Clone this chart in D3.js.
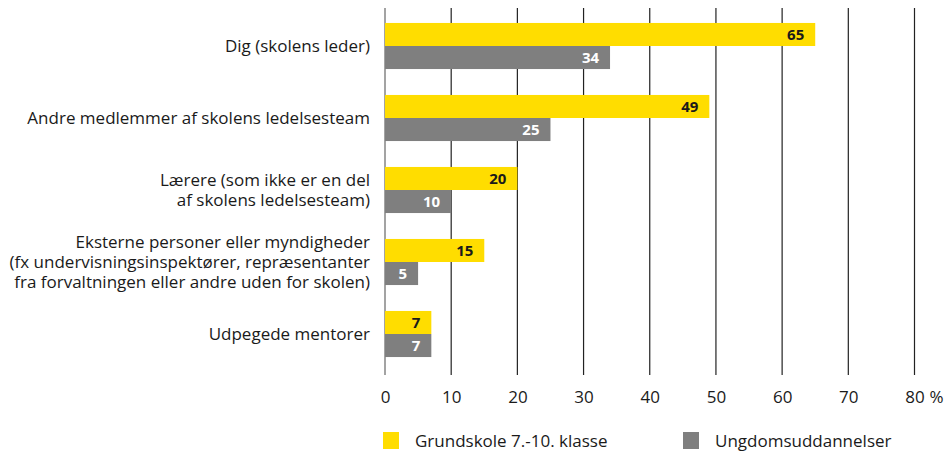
<!DOCTYPE html>
<html>
<head>
<meta charset="utf-8">
<script src="https://cdn.jsdelivr.net/npm/d3@7"></script>
<style>
  body { margin: 0; background: #fff; }
  text { font-family: "Open Sans", "Noto Sans", sans-serif; fill: #1a1a1a; }
</style>
</head>
<body>
<div class="chart"></div>
<script>
// categories, one line per array entry
var categories = [
    ["Dig (skolens leder)"],
    ["Andre medlemmer af skolens ledelsesteam"],
    ["Lærere (som ikke er en del", "af skolens ledelsesteam)"],
    ["Eksterne personer eller myndigheder", "(fx undervisningsinspektører, repræsentanter", "fra forvaltningen eller andre uden for skolen)"],
    ["Udpegede mentorer"]
];
var grundskole = [65, 49, 20, 15, 7];
var ungdom = [34, 25, 10, 5, 7];
var seriesNames = ["Grundskole 7.-10. klasse", "Ungdomsuddannelser"];
var tickValues = [0, 10, 20, 30, 40, 50, 60, 70, 80];

var svgWidth = 947;
var svgHeight = 452;

var svg = d3.select(".chart")
    .append("svg")
    .attr("width", svgWidth)
    .attr("height", svgHeight);

var x = d3.scaleLinear()
    .domain([0, 80])
    .range([385, 914.5]);

var y = d3.scaleBand()
    .domain(d3.range(categories.length))
    .range([10, 370])
    .paddingInner(0.36)
    .paddingOuter(0.18);

var colors = ["#ffdd00", "#7f7f7f"];

// gridlines
svg.append("g")
    .selectAll("line")
    .data(tickValues)
    .enter()
    .append("line")
    .attr("x1", d => x(d))
    .attr("x2", d => x(d))
    .attr("y1", 8)
    .attr("y2", 375)
    .attr("stroke", d => d === 0 ? "#666" : "#222")
    .attr("stroke-width", 1.2);

// bars
var rows = categories.map((c, i) => ({ i: i, vals: [grundskole[i], ungdom[i]] }));
var half = y.bandwidth() / 2;

var groups = svg.selectAll(".row")
    .data(rows)
    .enter()
    .append("g")
    .attr("class", "row");

groups.selectAll("rect")
    .data(d => d.vals.map((v, k) => ({ v: v, k: k, i: d.i })))
    .enter()
    .append("rect")
    .attr("x", x(0))
    .attr("y", d => y(d.i) + d.k * half)
    .attr("width", d => x(d.v) - x(0))
    .attr("height", half)
    .attr("fill", d => colors[d.k]);

groups.selectAll(".val")
    .data(d => d.vals.map((v, k) => ({ v: v, k: k, i: d.i })))
    .enter()
    .append("text")
    .attr("class", "val")
    .attr("x", d => x(d.v) - 11)
    .attr("y", d => y(d.i) + d.k * half + half / 2)
    .attr("dy", "0.36em")
    .attr("text-anchor", "end")
    .style("font-size", "15px")
    .style("font-weight", "bold")
    .style("fill", d => d.k === 0 ? "#1a1a1a" : "#fff")
    .text(d => d.v);

// category labels
var lineH = 20;
svg.append("g")
    .selectAll("text")
    .data(categories)
    .enter()
    .append("text")
    .attr("text-anchor", "end")
    .style("font-size", "17px")
    .each(function (lines, i) {
        var cy = y(i) + y.bandwidth() / 2;
        var t0 = cy - (lines.length - 1) * lineH / 2;
        d3.select(this).selectAll("tspan")
            .data(lines)
            .enter()
            .append("tspan")
            .attr("x", 370)
            .attr("y", (l, j) => t0 + j * lineH)
            .attr("dy", "0.36em")
            .text(l => l);
    });

// x axis
var bottomAxis = d3.axisBottom(x)
    .tickValues(tickValues)
    .tickSize(0)
    .tickPadding(0);

var xAxis = svg.append("g")
    .attr("transform", "translate(0, 397)")
    .call(bottomAxis);
xAxis.select(".domain").remove();
xAxis.selectAll("text")
    .attr("y", 0)
    .attr("dy", "0.36em")
    .style("font-size", "17px")
    .attr("fill", "#1a1a1a");

svg.append("text")
    .attr("x", x(80) + 15)
    .attr("y", 397)
    .attr("dy", "0.36em")
    .style("font-size", "17px")
    .text("%");

// legend
var legendX = [383, 683];
var legend = svg.selectAll(".legend")
    .data(seriesNames)
    .enter()
    .append("g")
    .attr("class", "legend")
    .attr("transform", (d, i) => `translate(${legendX[i]}, 432)`);

legend.append("rect")
    .attr("width", 16)
    .attr("height", 17)
    .attr("fill", (d, i) => colors[i]);

legend.append("text")
    .attr("x", 32)
    .attr("y", 9)
    .attr("dy", "0.36em")
    .style("font-size", "17px")
    .text(d => d);
</script>
</body>
</html>
